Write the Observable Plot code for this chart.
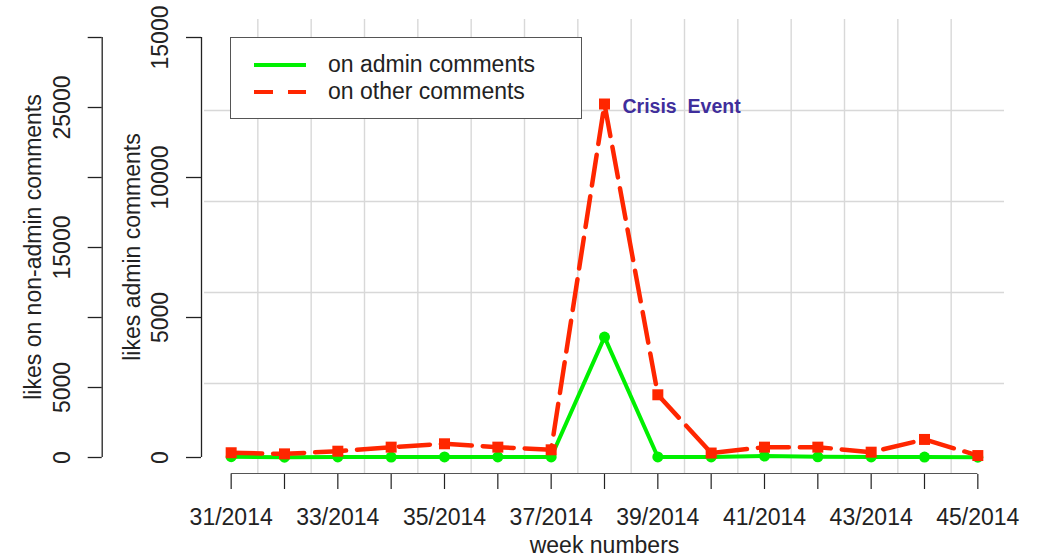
<!DOCTYPE html>
<html><head><meta charset="utf-8">
<script src="https://cdn.jsdelivr.net/npm/d3@7"></script>
<script src="https://cdn.jsdelivr.net/npm/@observablehq/plot@0.6"></script>
<style>
body{margin:0;background:#fff;}
#wrap{position:relative;width:1043px;height:558px;font-family:"Liberation Sans",Arial,Helvetica,sans-serif;color:#222;}
#wrap svg text{white-space:pre;}
#legend{position:absolute;left:230px;top:37px;width:350px;height:80px;border:1px solid #555;background:#fff;box-sizing:content-box;}
.lg-row{position:absolute;left:0;height:27px;width:100%;}
.lg-row svg{position:absolute;left:22px;top:0;}
.lg-row span{position:absolute;left:97px;top:0;font-size:23px;line-height:27px;white-space:nowrap;color:#222;}
</style></head><body><div id="wrap"></div>
<script>
// ---- data ----
const weeks = [31, 32, 33, 34, 35, 36, 37, 38, 39, 40, 41, 42, 43, 44, 45];
const xTickLabels = ["31/2014", "", "33/2014", "", "35/2014", "", "37/2014", "", "39/2014", "", "41/2014", "", "43/2014", "", "45/2014"];
const adminLikes = [30, 10, 20, 15, 20, 20, 20, 4300, 20, 20, 50, 25, 20, 15, 10];
const otherLikes = [340, 260, 450, 740, 980, 740, 550, 25250, 4480, 320, 740, 740, 380, 1290, 140];
const seriesNames = ["on admin comments", "on other comments"];
const seriesColors = ["#00f000", "#ff2600"];
const annotationText = "Crisis  Event";
const adminTicks = [0, 5000, 10000, 15000];
const adminTickLabels = ["0", "5000", "10000", "15000"];
const otherTicks = [0, 5000, 10000, 15000, 20000, 25000, 30000];
const otherTickLabels = ["0", "5000", "", "15000", "", "25000", ""];
const xTitle = "week numbers";
const yTitleAdmin = "likes admin comments";
const yTitleOther = "likes on non-admin comments";
const otherRatio = 2; // outer axis spans twice the inner one

// ---- layout ----
const W = 1043, H = 558;
const FS = 23;
const xDomain = [30.5, 45.5];
const yDomain = [-607, 15643];
const gridX = d3.range(1, 15).map(k => xDomain[0] + k * (xDomain[1] - xDomain[0]) / 15);
const gridY = d3.range(1, 5).map(k => yDomain[0] + k * (yDomain[1] - yDomain[0]) / 5);

const admin = weeks.map((w, i) => ({week: w, v: adminLikes[i]}));
const other = weeks.map((w, i) => ({week: w, v: otherLikes[i] / otherRatio}));
const peak = other.reduce((a, b) => (b.v > a.v ? b : a));

const font = '"Liberation Sans", Arial, Helvetica, sans-serif';
const ink = "#222";

const chart = Plot.plot({
  width: W, height: H,
  marginLeft: 204, marginRight: 39, marginTop: 19, marginBottom: 84,
  x: {domain: xDomain},
  y: {domain: yDomain},
  style: {fontFamily: font, background: "#fff", color: ink, overflow: "visible"},
  marks: [
    Plot.ruleX(gridX, {stroke: "#d8d8d8", strokeWidth: 1.4}),
    Plot.ruleY(gridY, {stroke: "#d8d8d8", strokeWidth: 1.4}),
    // x axis
    Plot.ruleY([yDomain[0]], {x1: weeks[0], x2: weeks[weeks.length - 1], dy: -1, stroke: "#555", strokeWidth: 1.2}),
    Plot.axisX(weeks, {tickSize: 15, tickPadding: 19, fontSize: FS, fill: ink, stroke: ink, strokeWidth: 1.2, label: null,
      tickFormat: d => xTickLabels[weeks.indexOf(d)]}),
    Plot.text([xTitle], {text: d => d, frameAnchor: "bottom", textAnchor: "middle", lineAnchor: "bottom", dy: 78, fontSize: FS, fill: ink}),
    // inner y axis (admin)
    Plot.ruleX([xDomain[0]], {y1: adminTicks[0], y2: adminTicks[adminTicks.length - 1], dx: -3, stroke: ink, strokeWidth: 1.3}),
    Plot.axisY(adminTicks, {anchor: "left", dx: -3, tickSize: 15, tickPadding: 19, tickRotate: -90, fontSize: FS,
      fill: ink, stroke: ink, strokeWidth: 1.3, label: null,
      tickFormat: d => adminTickLabels[adminTicks.indexOf(d)]}),
    Plot.text([yTitleAdmin], {text: d => d, frameAnchor: "left", textAnchor: "middle", lineAnchor: "middle", rotate: -90, dx: -72, fontSize: FS, fill: ink}),
    // outer y axis (others)
    Plot.ruleX([xDomain[0]], {y1: otherTicks[0] / otherRatio, y2: otherTicks[otherTicks.length - 1] / otherRatio, dx: -102.3, stroke: ink, strokeWidth: 1.3}),
    Plot.axisY(otherTicks.map(v => v / otherRatio), {anchor: "left", dx: -102.3, tickSize: 14, tickPadding: 18, tickRotate: -90, fontSize: FS,
      fill: ink, stroke: ink, strokeWidth: 1.3, label: null,
      tickFormat: d => otherTickLabels[otherTicks.indexOf(d * otherRatio)]}),
    Plot.text([yTitleOther], {text: d => d, frameAnchor: "left", textAnchor: "middle", lineAnchor: "middle", rotate: -90, dx: -171, fontSize: FS, fill: ink}),
    // series
    Plot.line(admin, {x: "week", y: "v", stroke: seriesColors[0], strokeWidth: 4}),
    Plot.dot(admin, {x: "week", y: "v", r: 5.5, fill: seriesColors[0]}),
    Plot.line(other, {x: "week", y: "v", stroke: seriesColors[1], strokeWidth: 4.5, strokeDasharray: "31,11"}),
    Plot.dot(other, {x: "week", y: "v", symbol: "square", r: 6.2, fill: seriesColors[1]}),
    Plot.text([peak], {x: "week", y: "v", text: () => annotationText, textAnchor: "start", dx: 18, dy: 3,
      fill: "#3f2e9c", fontWeight: "bold", fontSize: 19.5})
  ]
});
const wrap = document.getElementById("wrap");
wrap.appendChild(chart);

// legend
const legend = document.createElement("div");
legend.id = "legend";
seriesNames.forEach((name, i) => {
  const row = document.createElement("div");
  row.className = "lg-row";
  row.style.top = (13 + i * 27) + "px";
  const dash = i === 0 ? "" : ' stroke-dasharray="19,15"';
  row.innerHTML = `<svg width="56" height="27"><line x1="1" x2="53" y1="14" y2="14" stroke="${seriesColors[i]}" stroke-width="4"${dash}/></svg><span>${name}</span>`;
  legend.appendChild(row);
});
wrap.appendChild(legend);
</script>
</body></html>
